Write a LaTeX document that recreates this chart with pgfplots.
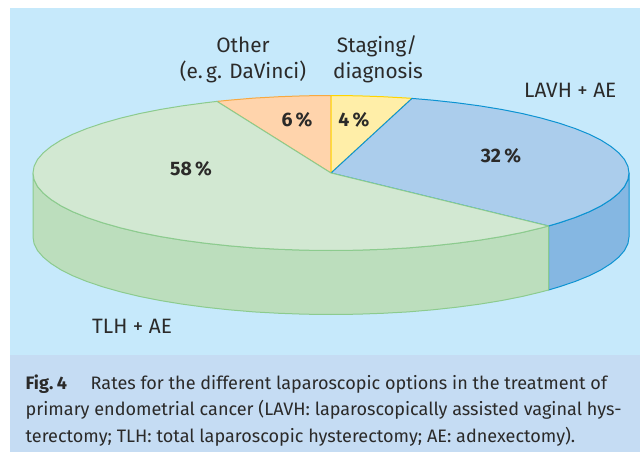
\documentclass[border=0pt]{standalone}
\usepackage{pgfplots}
\pgfplotsset{compat=1.18}
\usepackage{fontspec}
\setmainfont{Fira Sans}
\definecolor{panel}{HTML}{C6E9FB}
\definecolor{capbg}{HTML}{C5DCF3}
\definecolor{tlhtop}{HTML}{D2E8D2}
\definecolor{tlhside}{HTML}{BCDEBD}
\definecolor{tlhline}{HTML}{8CCB8E}
\definecolor{othertop}{HTML}{FFD4AC}
\definecolor{otherline}{HTML}{F7A941}
\definecolor{stagtop}{HTML}{FFEEA8}
\definecolor{stagline}{HTML}{FFD400}
\definecolor{lavhtop}{HTML}{ABCDEC}
\definecolor{lavhside}{HTML}{85B7E2}
\definecolor{lavhline}{HTML}{0C93D2}
\definecolor{ink}{HTML}{2B2A29}
\tikzset{
  mylab/.style={font=\fontsize{20.8}{22}\selectfont, text=ink, inner sep=0pt},
  mypct/.style={font=\fontsize{19.5}{22}\selectfont\bfseries, text=ink, inner sep=0pt},
  mycap/.style={font=\fontsize{18.05}{20}\selectfont, text=ink, inner sep=0pt, anchor=base west},
}
\begin{document}
\begin{tikzpicture}
\begin{axis}[
  scale only axis, width=640pt, height=452pt,
  xmin=0, xmax=640, ymin=0, ymax=452, y dir=reverse,
  hide axis, clip=true,
  every axis plot/.append style={line join=round, line width=1pt},
]
\addplot[fill=white, draw=none] coordinates {(0,0) (640,0) (640,452) (0,452)} -- cycle;
\addplot[fill=panel, draw=none] coordinates {(10,8) (640,8) (640,355) (10,355)} -- cycle;
\addplot[fill=capbg, draw=none] coordinates {(10,355) (640,355) (640,452) (10,452)} -- cycle;
% LAVH side
\addplot[fill=lavhside, draw=lavhline] coordinates {(548.5,226) (559.3,222.8) (575.1,217.5) (589.1,211.8) (601.1,205.8) (611.0,199.5) (618.8,193.1) (624.5,186.5) (627.9,179.8) (629,173) (629,237) (627.9,243.8) (624.5,250.5) (618.8,257.1) (611.0,263.5) (601.1,269.8) (589.1,275.8) (575.1,281.5) (559.3,286.8) (548.5,290)} -- cycle;
% TLH side
\addplot[fill=tlhside, draw=tlhline] coordinates {(33.0,173.0) (34.1,179.8) (37.5,186.5) (43.2,193.1) (51.0,199.5) (60.9,205.8) (72.9,211.8) (86.9,217.5) (102.7,222.8) (120.3,227.8) (139.4,232.4) (160.1,236.5) (182.0,240.1) (205.1,243.2) (229.1,245.8) (253.9,247.9) (279.3,249.3) (305.0,250.2) (331.0,250.5) (357.0,250.2) (382.7,249.3) (408.1,247.9) (432.9,245.8) (456.9,243.2) (480.0,240.1) (501.9,236.5) (522.6,232.4) (541.7,227.8) (548.5,226) (548.5,290) (541.7,291.8) (522.6,296.4) (501.9,300.5) (480.0,304.1) (456.9,307.2) (432.9,309.8) (408.1,311.9) (382.7,313.3) (357.0,314.2) (331.0,314.5) (305.0,314.2) (279.3,313.3) (253.9,311.9) (229.1,309.8) (205.1,307.2) (182.0,304.1) (160.1,300.5) (139.4,296.4) (120.3,291.8) (102.7,286.8) (86.9,281.5) (72.9,275.8) (60.9,269.8) (51.0,263.5) (43.2,257.1) (37.5,250.5) (34.1,243.8) (33.0,237.0)} -- cycle;
% Other top
\addplot[fill=othertop, draw=otherline] coordinates {(331,173) (331,95.5) (305.0,95.8) (279.3,96.7) (253.9,98.1) (229.1,100.2) (217,101.4)} -- cycle;
% Staging top
\addplot[fill=stagtop, draw=stagline] coordinates {(331,173) (412,98.4) (408.1,98.1) (382.7,96.7) (357.0,95.8) (331,95.5)} -- cycle;
% LAVH top
\addplot[fill=lavhtop, draw=lavhline] coordinates {(331,173) (548.5,226) (559.3,222.8) (575.1,217.5) (589.1,211.8) (601.1,205.8) (611.0,199.5) (618.8,193.1) (624.5,186.5) (627.9,179.8) (629,173) (627.9,166.2) (624.5,159.5) (618.8,152.9) (611.0,146.5) (601.1,140.2) (589.1,134.2) (575.1,128.5) (559.3,123.2) (541.7,118.2) (522.6,113.6) (501.9,109.5) (480.0,105.9) (456.9,102.8) (432.9,100.2) (412,98.4)} -- cycle;
% TLH top
\addplot[fill=tlhtop, draw=tlhline] coordinates {(331,173) (217,101.4) (205.1,102.8) (182.0,105.9) (160.1,109.5) (139.4,113.6) (120.3,118.2) (102.7,123.2) (86.9,128.5) (72.9,134.2) (60.9,140.2) (51.0,146.5) (43.2,152.9) (37.5,159.5) (34.1,166.2) (33.0,173.0) (34.1,179.8) (37.5,186.5) (43.2,193.1) (51.0,199.5) (60.9,205.8) (72.9,211.8) (86.9,217.5) (102.7,222.8) (120.3,227.8) (139.4,232.4) (160.1,236.5) (182.0,240.1) (205.1,243.2) (229.1,245.8) (253.9,247.9) (279.3,249.3) (305.0,250.2) (331.0,250.5) (357.0,250.2) (382.7,249.3) (408.1,247.9) (432.9,245.8) (456.9,243.2) (480.0,240.1) (501.9,236.5) (522.6,232.4) (541.7,227.8) (548.5,226)} -- cycle;
% labels
\node[mylab, anchor=base] at (axis cs:243,53) {Other};
\node[mylab, anchor=base] at (axis cs:243,78) {(e.\,g. DaVinci)};
\node[mylab, anchor=base] at (axis cs:377,53) {Staging/};
\node[mylab, anchor=base] at (axis cs:378,78) {diagnosis};
\node[mylab, anchor=base west] at (axis cs:524,98) {LAVH + AE};
\node[mylab, anchor=base west] at (axis cs:92,333) {TLH + AE};
\node[mypct, anchor=base] at (axis cs:191,175.5) {58\,\%};
\node[mypct, anchor=base] at (axis cs:297,126.5) {6\,\%};
\node[mypct, anchor=base] at (axis cs:354,126.5) {4\,\%};
\node[mypct, anchor=base] at (axis cs:501,162.5) {32\,\%};
% caption
\node[mycap] at (axis cs:25.5,389) {\textbf{Fig.\hspace{0.2em}4}};
\node[mycap] at (axis cs:90.5,389) {Rates for the different laparoscopic options in the treatment of};
\node[mycap] at (axis cs:25.5,415.5) {primary endometrial cancer (LAVH: laparoscopically assisted vaginal hys-};
\node[mycap] at (axis cs:25.5,442) {terectomy; TLH: total laparoscopic hysterectomy; AE: adnexectomy).};
\end{axis}
\end{tikzpicture}
\end{document}
